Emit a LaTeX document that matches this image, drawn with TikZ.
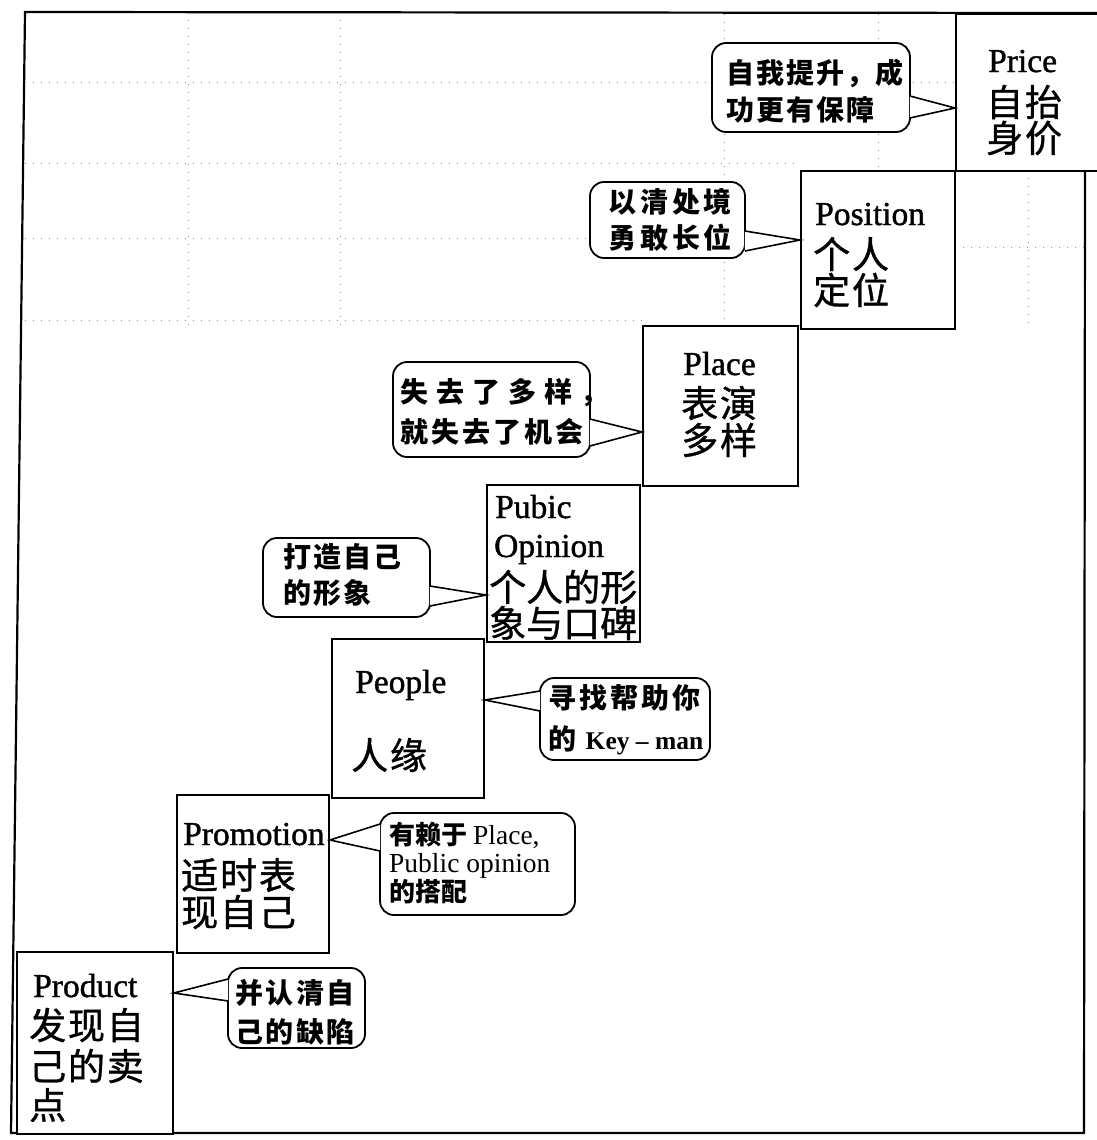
\documentclass[tikz,border=0pt]{standalone}
\usepackage{fontspec}
\usetikzlibrary{calc}
\setmainfont{Liberation Serif}
\newfontfamily\latn{Liberation Serif}[RawFeature={embolden=1.2}]
\newfontfamily\cjk{Noto Sans CJK SC}[LetterSpace=5, RawFeature={embolden=1}]
\newfontfamily\cjkb{Noto Sans CJK SC}[LetterSpace=7]
\begin{document}
\begin{tikzpicture}[x=1pt,y=-1pt,
  stepbox/.style={draw, fill=white, line width=1.8pt, inner sep=0pt, anchor=north west},
  bubble/.style={draw, fill=white, line width=1.8pt, rounded corners=14pt, inner sep=0pt},
  ptr/.style={draw, fill=white, line width=1.6pt, line join=miter},
  frame/.style={line width=2.2pt},
  gridline/.style={black!45, line width=0.8pt, dash pattern=on 1pt off 7pt},
  lat/.style={font=\latn\fontsize{33.5}{34}\selectfont, anchor=base west, inner sep=0pt},
  han/.style={font=\cjk\fontsize{37}{37}\selectfont, anchor=west, inner sep=0pt},
  say/.style={anchor=west, inner sep=0pt, align=left},
]
\useasboundingbox (0,0) rectangle (1097,1140);
\clip (0,0) rectangle (1097,1140);
\fill[white] (0,0) rectangle (1097,1140);

% faint dotted grid
\draw[gridline] (25,82) -- (955,82);
\draw[gridline] (25,163) -- (800,163);
\draw[gridline] (25,238) -- (800,238);
\draw[gridline] (25,320) -- (642,320);
\draw[gridline] (955,247) -- (1085,247);
\draw[gridline] (188,12) -- (188,330);
\draw[gridline] (340,12) -- (340,330);
\draw[gridline] (724,14) -- (724,325);
\draw[gridline] (878,14) -- (878,170);
\draw[gridline] (1028,170) -- (1028,325);

% outer frame
\draw[frame] (1097,13) -- (25,12) -- (11,1133) -- (1084,1133) -- (1085,170);

% staircase boxes
\node[stepbox, minimum width=156pt, minimum height=182pt] (b1) at (16,951) {};
\node[stepbox, minimum width=152pt, minimum height=158pt] (b2) at (176,794) {};
\node[stepbox, minimum width=152pt, minimum height=159pt] (b3) at (331,638) {};
\node[stepbox, minimum width=153pt, minimum height=157pt] (b4) at (486,484) {};
\node[stepbox, minimum width=155pt, minimum height=160pt] (b5) at (642,325) {};
\node[stepbox, minimum width=154pt, minimum height=158pt] (b6) at (800,170) {};
\node[stepbox, minimum width=170pt, minimum height=157pt] (b7) at (955,13) {};

% box texts
\node[lat] (t1a) at (33,997) {Product};
\node[han] (t1b) at (29,1025) {发现自};
\node[han] (t1c) at (29,1066) {己的卖};
\node[han] (t1d) at (29,1105) {点};

\node[lat] (t2a) at (183,845) {Promotion};
\node[han] (t2b) at (181,875) {适时表};
\node[han] (t2c) at (181,912) {现自己};

\node[lat] (t3a) at (355,693) {People};
\node[han] (t3b) at (351,755) {人缘};

\node[lat] (t4a) at (495,518) {Pubic};
\node[lat] (t4b) at (494,557) {Opinion};
\node[han, font=\cjk\addfontfeatures{LetterSpace=0}\fontsize{37}{37}\selectfont] (t4c) at (489,587) {个人的形};
\node[han, font=\cjk\addfontfeatures{LetterSpace=0}\fontsize{37}{37}\selectfont] (t4d) at (489,623) {象与口碑};

\node[lat] (t5a) at (683,375) {Place};
\node[han] (t5b) at (681,403) {表演};
\node[han] (t5c) at (681,440) {多样};

\node[lat] (t6a) at (815,225) {Position};
\node[han] (t6b) at (813,254) {个人};
\node[han] (t6c) at (813,290) {定位};

\node[lat] (t7a) at (988,72) {Price};
\node[han] (t7b) at (986,102) {自抬};
\node[han] (t7c) at (986,138) {身价};

% speech bubbles
\node[bubble, minimum width=198pt, minimum height=89pt] (p7) at (811,87.5) {};
\node[bubble, minimum width=155pt, minimum height=76pt] (p6) at (667.5,220) {};
\node[bubble, minimum width=197pt, minimum height=95pt] (p5) at (491.5,409.5) {};
\node[bubble, minimum width=167pt, minimum height=79pt] (p4) at (346.5,577.5) {};
\node[bubble, minimum width=170pt, minimum height=82pt] (p3) at (625,719) {};
\node[bubble, minimum width=195pt, minimum height=102pt] (p2) at (477.5,864) {};
\node[bubble, minimum width=137pt, minimum height=80pt] (p1) at (296.5,1008) {};

% pointers
\draw[ptr] ($(p7.east |- 0,96)+(-1,0)$) -- (b7.west |- 0,108) -- ($(p7.east |- 0,118)+(-1,0)$);
\draw[ptr] ($(p6.east |- 0,231)+(-1,0)$) -- (b6.west |- 0,240) -- ($(p6.east |- 0,251)+(-1,0)$);
\draw[ptr] ($(p5.east |- 0,419)+(-1,0)$) -- (b5.west |- 0,432) -- ($(p5.east |- 0,446)+(-1,0)$);
\draw[ptr] ($(p4.east |- 0,586)+(-1,0)$) -- (b4.west |- 0,595) -- ($(p4.east |- 0,606)+(-1,0)$);
\draw[ptr] ($(p3.west |- 0,691)+(1,0)$) -- (b3.east |- 0,700) -- ($(p3.west |- 0,711)+(1,0)$);
\draw[ptr] ($(p2.west |- 0,824)+(1,0)$) -- (b2.east |- 0,840) -- ($(p2.west |- 0,851)+(1,0)$);
\draw[ptr] ($(p1.west |- 0,979)+(1,0)$) -- (b1.east |- 0,993) -- ($(p1.west |- 0,1001)+(1,0)$);

% bubble texts
\node[say, font=\cjkb\bfseries\fontsize{28}{37}\selectfont] (s7) at (726,91.5) {自我提升，成\\功更有保障};
\node[say, font=\cjkb\bfseries\addfontfeatures{LetterSpace=14}\fontsize{28}{36}\selectfont] (s6) at (608,220) {以清处境\\勇敢长位};
\node[say, font=\cjkb\bfseries\addfontfeatures{LetterSpace=11}\fontsize{28}{40}\selectfont] (s5) at (400,412) {{\addfontfeatures{LetterSpace=29}失去了多样，}\\就失去了机会};
\node[say, font=\cjkb\bfseries\fontsize{28}{36}\selectfont] (s4) at (283,575) {打造自己\\的形象};
\node[say, font=\cjkb\bfseries\addfontfeatures{LetterSpace=11}\fontsize{28}{41}\selectfont] (s3) at (548,719.5) {寻找帮助你\\的 {\rmfamily\fontsize{25.5}{41}\selectfont Key \textendash\ man}};
\node[say, font=\cjkb\bfseries\addfontfeatures{LetterSpace=0}\fontsize{26}{28}\selectfont] (s2) at (389,863) {有赖于 {\rmfamily\mdseries\fontsize{27.5}{28}\selectfont Place,}\\{\rmfamily\mdseries\fontsize{27.5}{28}\selectfont Public opinion}\\的搭配};
\node[say, font=\cjkb\bfseries\addfontfeatures{LetterSpace=9}\fontsize{28}{39}\selectfont] (s1) at (235,1012.5) {并认清自\\己的缺陷};
\end{tikzpicture}
\end{document}
